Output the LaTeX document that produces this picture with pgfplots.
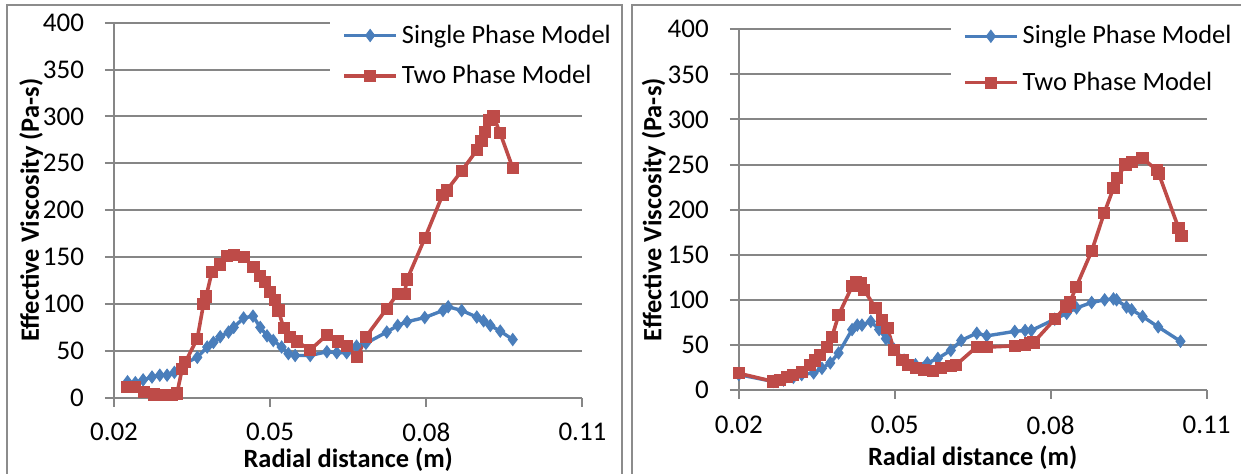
\documentclass[border=0pt]{standalone}
\usepackage{fontspec}
\setmainfont{Carlito}
\usepackage{pgfplots}
\pgfplotsset{compat=1.18}

\definecolor{spblue}{HTML}{4A7EBB}
\definecolor{tpred}{HTML}{BE4B48}
\definecolor{gridgray}{HTML}{868686}
\definecolor{framegray}{HTML}{8C8C8C}

\pgfplotsset{
  viscosity/.style={
    scale only axis,
    anchor=south west,
    xmin=0.02, xmax=0.11,
    ymin=0, ymax=400,
    xtick={0.02,0.05,0.08,0.11},
    xticklabels={0.02,0.05,0.08,0.11},
    ytick={0,50,...,400},
    axis x line=bottom,
    axis y line=left,
    axis line style={-, draw=gridgray, line width=1pt},
    tick style={draw=gridgray, line width=1pt},
    tick align=outside,
    major tick length=4.5pt,
    ymajorgrids,
    grid style={draw=gridgray, line width=1pt},
    /pgf/number format/assume math mode=true,
    tick label style={font=\fontsize{13.5}{16}\selectfont, text=black},
    yticklabel style={xshift=-7pt},
    xticklabel style={yshift=-4.8pt},
    label style={font=\fontsize{13.2}{16}\selectfont\bfseries, text=black},
    xlabel={Radial distance (m)},
    ylabel={Effective Viscosity (Pa-s)},
    legend cell align=left,
    legend image code/.code={
      \draw[mark repeat=2, mark phase=2, #1]
        plot coordinates {(0pt,0pt) (13pt,0pt) (26pt,0pt)};
    },
    legend style={
      anchor=north west,
      draw=none, fill=white,
      font=\fontsize{13.2}{16}\selectfont,
      inner xsep=6pt, inner ysep=3pt,
      row sep=5.5pt,
    },
    clip=false,
  },
  single/.style={color=spblue, line width=1.7pt, mark=diamond*, mark size=3pt,
    mark options={fill=spblue, draw=spblue, line width=0.5pt}},
  twophase/.style={color=tpred, line width=1.8pt, mark=square*, mark size=2.8pt,
    mark options={fill=tpred, draw=tpred, line width=0.5pt}},
}

\begin{document}
\begin{tikzpicture}
\path[use as bounding box] (0,0) rectangle (620.5pt,237pt);

% ---------- left chart ----------
\begin{axis}[viscosity,
  at={(57pt,38.15pt)}, width=234.25pt, height=187.5pt,
  xlabel style={at={(axis description cs:0.5,-0.166)}, anchor=center},
  ylabel style={at={(axis description cs:-0.177,0.5)}, anchor=center},
  legend style={at={(axis description cs:0.461,1.022)}},
]
\addplot[single] coordinates {
(0.0226,17) (0.0241,16) (0.0256,19) (0.0273,22) (0.0288,24) (0.0302,24)
(0.0316,27) (0.0334,36) (0.0360,43) (0.0379,54) (0.0391,59) (0.0404,65)
(0.0420,70) (0.0430,75) (0.0449,85) (0.0467,87) (0.0481,75) (0.0494,66)
(0.0506,61) (0.0522,54) (0.0535,47) (0.0548,45) (0.0577,45) (0.0609,49)
(0.0628,48) (0.0647,48) (0.0666,55) (0.0684,58) (0.0724,70) (0.0745,77)
(0.0763,81) (0.0797,85.5) (0.0832,93) (0.0842,97) (0.0868,93) (0.0897,86)
(0.0910,82) (0.0923,77) (0.0942,71) (0.0966,62)
};
\addlegendentry{Single Phase Model}
\addplot[twophase] coordinates {
(0.0226,11) (0.0241,11) (0.0257,6) (0.0277,3.5) (0.0296,2.5) (0.0312,2.5)
(0.0321,4.5) (0.0331,31) (0.0337,38) (0.0360,63) (0.0372,100) (0.0377,108)
(0.0388,134) (0.0403,142) (0.0417,151) (0.0430,152) (0.0449,150) (0.0468,139)
(0.0481,130) (0.0490,123) (0.0500,113) (0.0510,104) (0.0516,93) (0.0526,74)
(0.0538,65) (0.0551,60) (0.0577,51) (0.0609,67) (0.0630,60) (0.0648,55)
(0.0667,43) (0.0684,65) (0.0724,95) (0.0745,111) (0.0758,111) (0.0763,126)
(0.0797,170) (0.0831,216) (0.0839,221) (0.0868,242) (0.0897,264) (0.0906,274)
(0.0913,283) (0.0921,296) (0.0929,300) (0.0942,282) (0.0966,245)
};
\addlegendentry{Two Phase Model}
\end{axis}

% ---------- right chart ----------
\begin{axis}[viscosity,
  at={(369.4pt,42pt)}, width=233.85pt, height=180.35pt,
  xlabel style={at={(axis description cs:0.5,-0.1885)}, anchor=center},
  ylabel style={at={(axis description cs:-0.182,0.5)}, anchor=center},
  legend style={at={(axis description cs:0.453,1.039)}, row sep=8.5pt},
]
\addplot[single] coordinates {
(0.0200,17) (0.0266,9.5) (0.0286,11) (0.0305,14) (0.0321,17) (0.0344,19)
(0.0360,24) (0.0376,30) (0.0392,41) (0.0418,67) (0.0428,72) (0.0437,72)
(0.0454,76) (0.0470,67) (0.0483,57) (0.0499,45) (0.0518,33) (0.0540,28)
(0.0563,30) (0.0583,35) (0.0608,44) (0.0628,55) (0.0658,63) (0.0677,60)
(0.0731,65) (0.0751,66) (0.0763,66) (0.0808,78.5) (0.0831,85) (0.0850,91)
(0.0879,97) (0.0904,100) (0.0921,101) (0.0927,100) (0.0946,92) (0.0956,89)
(0.0977,81.5) (0.1007,70) (0.1050,54)
};
\addlegendentry{Single Phase Model}
\addplot[twophase] coordinates {
(0.0200,18.5) (0.0266,9.5) (0.0279,11) (0.0292,14) (0.0305,16.7) (0.0321,20)
(0.0337,28) (0.0347,32.6) (0.0357,39) (0.0370,48) (0.0379,58.5) (0.0392,83)
(0.0418,115) (0.0425,120) (0.0434,118.5) (0.0441,111) (0.0463,91) (0.0476,78)
(0.0486,68.5) (0.0499,44) (0.0515,33) (0.0525,28) (0.0541,24) (0.0557,22)
(0.0573,21.5) (0.0589,24) (0.0608,26.7) (0.0618,27.8) (0.0658,48) (0.0677,47.5)
(0.0731,49) (0.0751,50) (0.0760,52) (0.0767,52.6) (0.0808,78.5) (0.0829,92.6)
(0.0837,97) (0.0849,114) (0.0879,154) (0.0903,196) (0.0921,224) (0.0928,235)
(0.0944,250) (0.0956,252.6) (0.0977,257) (0.1004,244) (0.1008,240) (0.1046,180)
(0.1052,171)
};
\addlegendentry{Two Phase Model}
\end{axis}

% chart frames, drawn last so the legend boxes do not cover them
\draw[framegray, line width=1pt] (3.65pt,-5pt) -- (3.65pt,234.5pt) -- (311.15pt,234.5pt) -- (311.15pt,-5pt);
\draw[framegray, line width=1pt] (315.85pt,-5pt) -- (315.85pt,234.5pt) -- (630pt,234.5pt);
\end{tikzpicture}
\end{document}
